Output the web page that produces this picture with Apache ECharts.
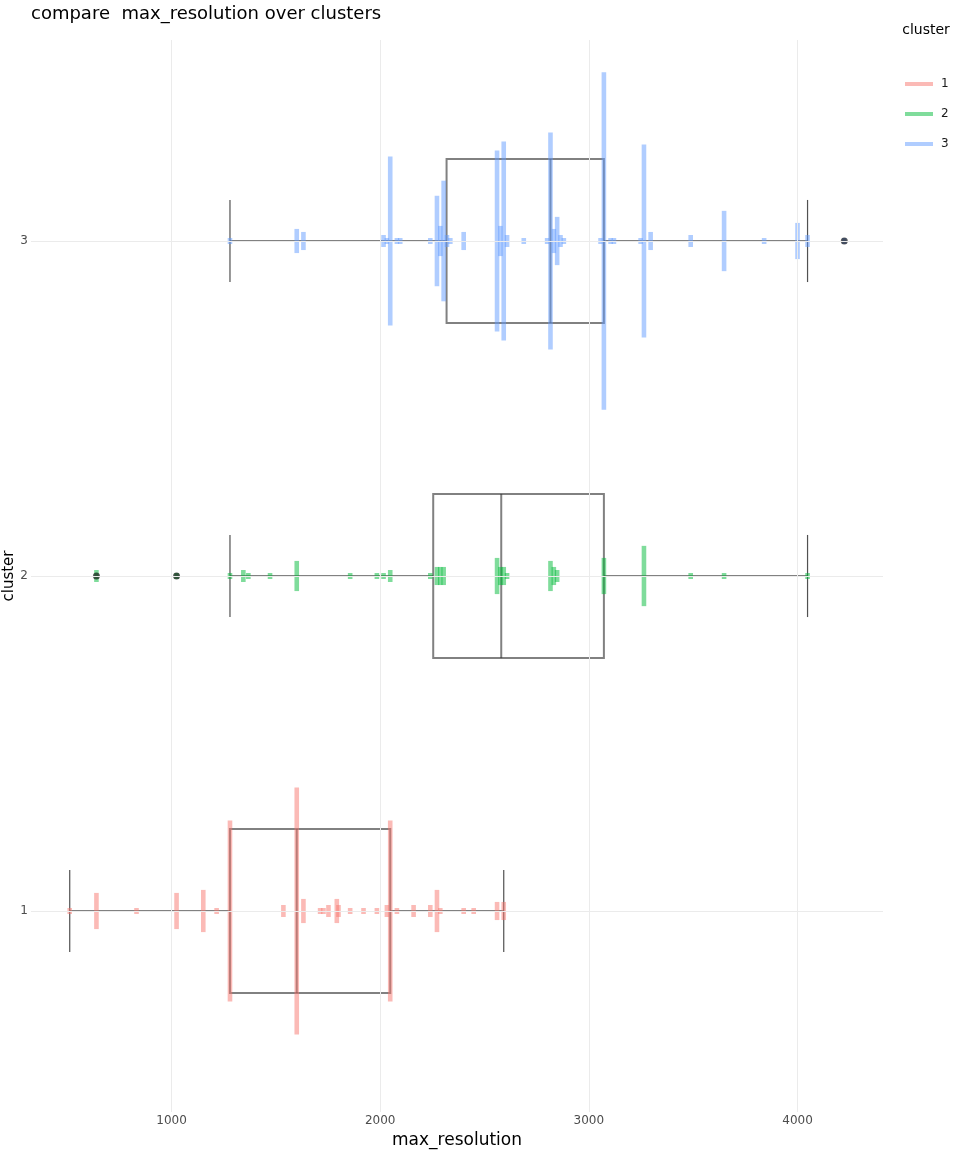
<!DOCTYPE html>
<html>
<head>
<meta charset="utf-8">
<script src="https://cdn.jsdelivr.net/npm/echarts@6/dist/echarts.min.js"></script>
<style>
  html, body { margin: 0; padding: 0; background: #fff; }
  #chart { width: 960px; height: 1152px; }
</style>
</head>
<body>
<div id="chart"></div>
<script>
// ---------------- data ----------------
const chartTitle = 'compare  max_resolution over clusters';
const xTitle = 'max_resolution';
const yTitle = 'cluster';
const clusterLabels = ['1', '2', '3'];
const xTickValues = [1000, 2000, 3000, 4000];

// box statistics per cluster
const lowerWhisker = [512, 1280, 1280];
const q1 = [1280, 2254, 2318];
const median = [1600, 2580, 2816];
const q3 = [2048, 3072, 3072];
const upperWhisker = [2592, 4048, 4048];
const outliers1 = [];
const outliers2 = [640, 1024];
const outliers3 = [4224];

// stacked points: distinct values and how many points share each value
const values1 = [512, 640, 832, 1024, 1152, 1216, 1280, 1536, 1600, 1632, 1712, 1728, 1752, 1792, 1800, 1856, 1920, 1984, 2032, 2048, 2080, 2160, 2240, 2272, 2288, 2400, 2448, 2560, 2592];
const counts1 = [1, 6, 1, 6, 7, 1, 30, 2, 41, 4, 1, 1, 2, 4, 2, 1, 1, 1, 2, 30, 1, 2, 2, 7, 1, 1, 1, 3, 3];

const values2 = [640, 1024, 1280, 1344, 1368, 1472, 1600, 1856, 1984, 2016, 2048, 2240, 2272, 2288, 2304, 2560, 2576, 2592, 2608, 2816, 2832, 2848, 3072, 3264, 3488, 3648, 4048];
const counts2 = [2, 1, 1, 2, 1, 1, 5, 1, 1, 1, 2, 1, 3, 3, 3, 6, 3, 3, 1, 5, 3, 2, 6, 10, 1, 1, 1];

const values3 = [1280, 1600, 1632, 2016, 2032, 2048, 2080, 2096, 2240, 2272, 2288, 2304, 2320, 2336, 2400, 2560, 2576, 2592, 2608, 2688, 2800, 2816, 2832, 2848, 2864, 2880, 3056, 3072, 3104, 3120, 3248, 3264, 3296, 3488, 3648, 3840, 4000, 4048, 4224];
const counts3 = [1, 4, 3, 2, 1, 28, 1, 1, 1, 15, 5, 20, 2, 1, 3, 30, 5, 33, 2, 1, 1, 36, 4, 8, 2, 1, 1, 56, 1, 1, 1, 32, 3, 2, 10, 1, 6, 2, 1];

// ---------------- styling ----------------
const FONT = 'DejaVu Sans';
const colors = ['rgba(248,118,109,0.5)', 'rgba(0,186,56,0.5)', 'rgba(97,156,255,0.5)'];
const STEP = 0.018;         // y-units per stacked point
const BOX_HALF = 0.245;
const CAP_HALF = 0.1225;

const allValues = [values1, values2, values3];
const allCounts = [counts1, counts2, counts3];
const allOutliers = [outliers1, outliers2, outliers3];

const boxData = clusterLabels.map((c, i) => [i + 1, lowerWhisker[i], q1[i], median[i], q3[i], upperWhisker[i]]);

const outlierData = [];
allOutliers.forEach((arr, i) => arr.forEach(v => outlierData.push([v, i + 1])));

const chart = echarts.init(document.getElementById('chart'));

const series = [];
// grid lines
series.push({
  type: 'line', data: [], z: 0, silent: true,
  markLine: {
    silent: true, symbol: 'none', label: { show: false },
    lineStyle: { color: '#ebebeb', width: 1, type: 'solid' },
    emphasis: { disabled: true },
    data: xTickValues.map(v => ({ xAxis: v })).concat(clusterLabels.map((c, i) => ({ yAxis: i + 1 })))
  }
});
// boxes
series.push({
  type: 'custom', name: 'box', z: 2, silent: true,
  data: boxData,
  encode: { x: [1, 2, 3, 4, 5], y: 0 },
  renderItem: function (params, api) {
    const y = api.value(0);
    const lw = api.coord([api.value(1), y]);
    const pq1 = api.coord([api.value(2), y]);
    const pm = api.coord([api.value(3), y]);
    const pq3 = api.coord([api.value(4), y]);
    const uw = api.coord([api.value(5), y]);
    const hb = api.size([0, BOX_HALF])[1];
    const hc = api.size([0, CAP_HALF])[1];
    const cy = pm[1];
    const boxStyle = { stroke: 'rgba(51,51,51,0.62)', lineWidth: 2, fill: null };
    const capStyle = { stroke: 'rgba(51,51,51,0.85)', lineWidth: 1.2 };
    return {
      type: 'group',
      children: [
        { type: 'line', shape: { x1: lw[0], y1: cy, x2: pq1[0], y2: cy }, style: boxStyle },
        { type: 'line', shape: { x1: pq3[0], y1: cy, x2: uw[0], y2: cy }, style: boxStyle },
        { type: 'rect', shape: { x: pq1[0], y: cy - hb, width: pq3[0] - pq1[0], height: 2 * hb }, style: boxStyle },
        { type: 'line', shape: { x1: pm[0], y1: cy - hb, x2: pm[0], y2: cy + hb }, style: boxStyle },
        { type: 'line', shape: { x1: lw[0], y1: cy - hc, x2: lw[0], y2: cy + hc }, style: capStyle },
        { type: 'line', shape: { x1: uw[0], y1: cy - hc, x2: uw[0], y2: cy + hc }, style: capStyle }
      ]
    };
  }
});
// stacked points
clusterLabels.forEach((c, k) => {
  series.push({
    type: 'custom', name: c, z: 3,
    itemStyle: { color: colors[k] },
    data: allValues[k].map((v, i) => [v, k + 1, allCounts[k][i]]),
    encode: { x: 0, y: 1 },
    renderItem: function (params, api) {
      const p = api.coord([api.value(0), api.value(1)]);
      const h = Math.max(api.size([0, api.value(2) * STEP])[1], 5);
      return {
        type: 'rect',
        shape: { x: p[0] - 2.3, y: p[1] - h / 2, width: 4.6, height: h },
        style: { fill: colors[k] }
      };
    }
  });
});
// outliers
series.push({
  type: 'scatter', name: 'outliers', z: 4, silent: true,
  symbol: 'circle', symbolSize: 7,
  itemStyle: { color: 'rgba(0,0,0,0.78)' },
  data: outlierData
});

chart.setOption({
  animation: false,
  backgroundColor: '#fff',
  grid: { left: 31, right: 77, top: 40, bottom: 40, containLabel: false },
  xAxis: {
    type: 'value', min: 326.4, max: 4409.6,
    axisLine: { show: false }, axisTick: { show: false }, splitLine: { show: false },
    axisLabel: {
      color: '#4d4d4d', fontSize: 12, fontFamily: FONT, margin: 3,
      formatter: v => xTickValues.indexOf(Math.round(v)) >= 0 && Math.abs(v - Math.round(v)) < 1e-6 ? String(Math.round(v)) : ''
    }
  },
  yAxis: {
    type: 'value', min: 0.4, max: 3.6, interval: 0.2,
    axisLine: { show: false }, axisTick: { show: false }, splitLine: { show: false },
    axisLabel: {
      color: '#4d4d4d', fontSize: 12, fontFamily: FONT, margin: 3,
      formatter: v => {
        const r = Math.round(v);
        return Math.abs(v - r) < 1e-6 && r >= 1 && r <= 3 ? clusterLabels[r - 1] : '';
      }
    }
  },
  legend: {
    data: clusterLabels, orient: 'vertical', left: 905, top: 78,
    icon: 'rect', itemWidth: 28, itemHeight: 4, itemGap: 18,
    padding: 0,
    textStyle: { fontSize: 12, color: '#1a1a1a', fontFamily: FONT, padding: [0, 0, 0, 3] }
  },
  graphic: [
    { type: 'text', left: 31, top: 5, style: { text: chartTitle, font: '18px "DejaVu Sans"', fill: '#000' } },
    { type: 'text', x: 457, y: 1141, style: { text: xTitle, font: '17px "DejaVu Sans"', fill: '#000', textAlign: 'center', textVerticalAlign: 'middle' } },
    { type: 'text', x: 9, y: 576, rotation: Math.PI / 2, style: { text: yTitle, font: '15px "DejaVu Sans"', fill: '#000', textAlign: 'center', textVerticalAlign: 'middle' } },
    { type: 'text', x: 926, y: 30, style: { text: 'cluster', font: '14px "DejaVu Sans"', fill: '#000', textAlign: 'center', textVerticalAlign: 'middle' } }
  ],
  series: series
});
</script>
</body>
</html>
